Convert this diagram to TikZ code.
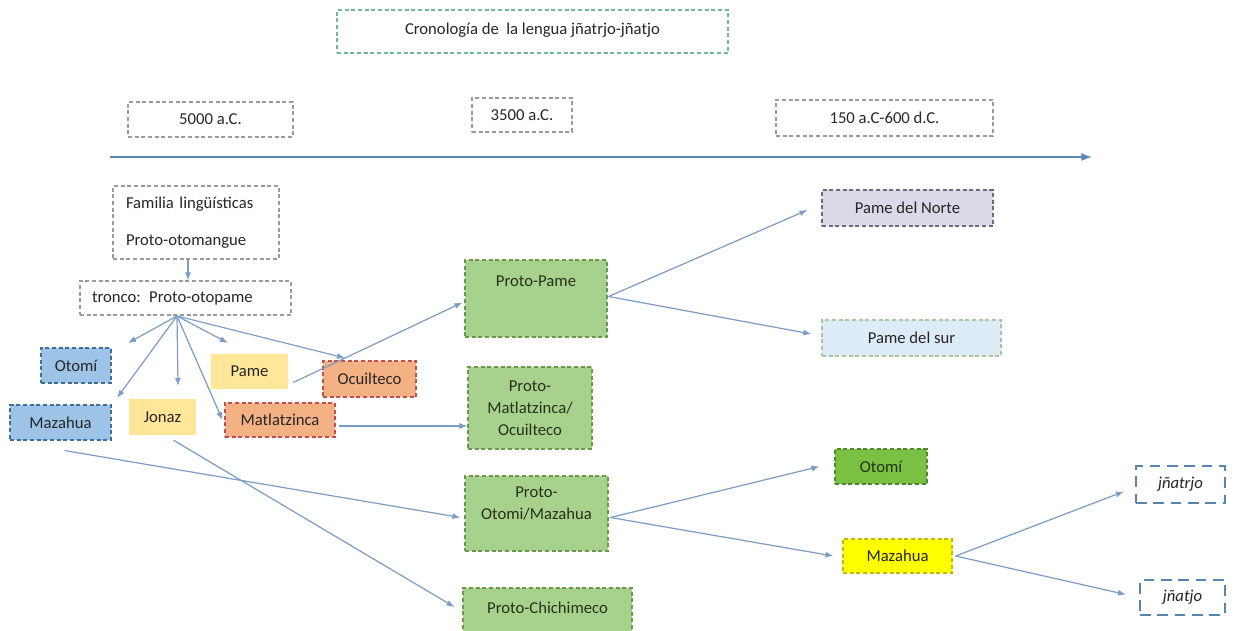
\documentclass[tikz,border=0pt]{standalone}
\usepackage{fontspec}
\setmainfont{Carlito}
\usetikzlibrary{arrows.meta,calc}
\definecolor{txt}{HTML}{262626}
\definecolor{arrc}{HTML}{7A9CC6}
\definecolor{linec}{HTML}{5B87B5}
\definecolor{grayd}{HTML}{9A9A9A}
\definecolor{titled}{HTML}{6FB89A}
\definecolor{blueF}{HTML}{9DC3E6}
\definecolor{blueD}{HTML}{3D6E9E}
\definecolor{yelF}{HTML}{FFE699}
\definecolor{orF}{HTML}{F4B183}
\definecolor{orD}{HTML}{C0504D}
\definecolor{grF}{HTML}{A9D18E}
\definecolor{grD}{HTML}{6A9A4A}
\definecolor{pnF}{HTML}{D9D9E8}
\definecolor{pnD}{HTML}{6B6B80}
\definecolor{psF}{HTML}{DDEBF7}
\definecolor{psD}{HTML}{A9C4A0}
\definecolor{otF}{HTML}{7AC143}
\definecolor{otD}{HTML}{4F8A2A}
\definecolor{mzF}{HTML}{FFFF00}
\definecolor{mzD}{HTML}{C8B800}
\definecolor{jD}{HTML}{5A84B0}
\definecolor{grT}{HTML}{233318}
\tikzset{
  bx/.style 2 args={minimum width=#1*0.75pt, minimum height=#2*0.75pt, inner sep=0pt},
  every node/.style={font=\fontsize{12.5}{16.5}\selectfont, text=txt},
  dsh/.style={dash pattern=on 3pt off 2pt, line width=0.8pt},
  graybox/.style={draw=grayd, dsh},
  titlebox/.style={draw=titled, dsh},
  bluebox/.style={fill=blueF, draw=blueD, dsh},
  yelbox/.style={fill=yelF},
  orbox/.style={fill=orF, draw=orD, dsh},
  grbox/.style={fill=grF, draw=grD, dsh, text=grT},
  pnbox/.style={fill=pnF, draw=pnD, dsh},
  psbox/.style={fill=psF, draw=psD, dsh},
  otbox/.style={fill=otF, draw=otD, dsh, text=grT},
  mzbox/.style={fill=mzF, draw=mzD, dsh},
  jbox/.style={draw=jD, line width=1.6pt, dash pattern=on 8pt off 5pt, font=\fontsize{12.5}{15}\selectfont\itshape},
  arr/.style={draw=arrc, line width=0.9pt, -{Latex[length=6pt,width=4.5pt]}},
}
\begin{document}
\begin{tikzpicture}[x=0.75pt,y=-0.75pt]
\fill[white] (0,0) rectangle (1238,631);
\useasboundingbox (0,0) rectangle (1238,631);

% header
\node[titlebox, bx={391}{43}] (title) at (532.5,31.5) {\raisebox{4pt}{Cronología de\ \ la lengua jñatrjo-jñatjo}};
\node[graybox, bx={165}{35}] (t5000) at (210.5,119.5) {5000 a.C.};
\node[graybox, bx={100}{34}] (t3500) at (522,115) {3500 a.C.};
\node[graybox, bx={217}{36}] (t150) at (884.5,118) {150 a.C-600 d.C.};
\coordinate (tlA) at (110,157);
\coordinate (tlB) at (1092,157);
\draw[draw=linec, line width=1.1pt, -{Latex[length=8pt,width=6pt]}] (tlA) -- (tlB);

% tree
\node[graybox, bx={166}{73}, text width=140*0.75pt, align=left] (familia) at (196,222.5)
  {Familia lingüísticas\\[11pt]Proto-otomangue};
\node[graybox, bx={211}{34}, text width=187*0.75pt, align=left] (tronco) at (185.5,298) {tronco: Proto-otopame};
\draw[arr] (familia.south -| 188,0) -- (tronco.north -| 188,0);

\node[bluebox, bx={70}{35}] (otomiL) at (76,365.5) {Otomí};
\node[bluebox, bx={101}{35}] (mazaL) at (60.5,422.5) {Mazahua};
\node[yelbox, bx={67}{36}] (jonaz) at (162.5,417) {Jonaz};
\node[yelbox, bx={77}{35}] (pame) at (249.5,371.5) {Pame};
\node[orbox, bx={93}{36}] (ocu) at (369.5,379) {Ocuilteco};
\node[orbox, bx={110}{34}] (matla) at (280,420) {Matlatzinca};

\coordinate (hub) at (177,316);
\coordinate (eOtomi) at (128,343);
\coordinate (eMaza) at (117,398);
\coordinate (eJonaz) at (178,386);
\coordinate (ePame) at (228,343);
\coordinate (eOcu) at (345,358);
\draw[arr] (hub) -- (eOtomi);
\draw[arr] (hub) -- (eMaza);
\draw[arr] (hub) -- (eJonaz);
\draw[arr] (hub) -- ($(matla.west)+(-2,0)$);
\draw[arr] (hub) -- (ePame);
\draw[arr] (hub) -- (eOcu);

% proto level
\node[grbox, bx={142}{77}, label={[anchor=north, yshift=-9pt, text=grT]north:Proto-Pame}] (protopame) at (536,298.5) {};
\node[grbox, bx={124}{82}, align=center] (protomat) at (530,408) {Proto-\\Matlatzinca/\\Ocuilteco};
\node[grbox, bx={143}{75}, label={[anchor=north, yshift=-5pt, align=center, text=grT]north:Proto-\\Otomi/Mazahua}] (protootomi) at (536.5,513.5) {};
\node[grbox, bx={169}{52}, label={[anchor=north, yshift=-7pt, text=grT]north:Proto-Chichimeco}] (chichi) at (547.5,614) {};

\draw[arr] ($(pame.east)+(5,11)$) -- ($(protopame.west)+(-2,4)$);
\draw[arr] ($(matla.east)+(3,6)$) -- ($(protomat.west)+(0,18)$);
\draw[arr] ($(mazaL.south)+(4,10)$) -- ($(protootomi.west)+(-4,4)$);
\draw[arr] ($(jonaz.south)+(11,5)$) -- ($(chichi.west)+(-8,-7)$);

% right side
\node[pnbox, bx={171}{36}] (pameN) at (907.5,208) {Pame del Norte};
\node[psbox, bx={179}{36}] (pameS) at (911.5,338) {Pame del sur};
\node[otbox, bx={92}{35}] (otomiR) at (881,466.5) {Otomí};
\node[mzbox, bx={109}{34}] (mazaR) at (897.5,556) {Mazahua};
\node[jbox, bx={89}{37}] (jnatrjo) at (1180.5,484.5) {jñatrjo};
\node[jbox, bx={85}{35}] (jnatjo) at (1182.5,597.5) {jñatjo};

\draw[arr] ($(protopame.east)+(1,-2)$) -- ($(pameN.west)+(-14,2)$);
\draw[arr] ($(protopame.east)+(1,-2)$) -- ($(pameS.west)+(-10,-4)$);
\draw[arr] ($(protootomi.east)+(2,4)$) -- ($(otomiR.west)+(-15,0)$);
\draw[arr] ($(protootomi.east)+(2,4)$) -- ($(mazaR.west)+(-9,0)$);
\draw[arr] ($(mazaR.east)+(3,0)$) -- ($(jnatrjo.west)+(-11,7)$);
\draw[arr] ($(mazaR.east)+(3,0)$) -- ($(jnatjo.west)+(-13,-3)$);
\end{tikzpicture}
\end{document}
